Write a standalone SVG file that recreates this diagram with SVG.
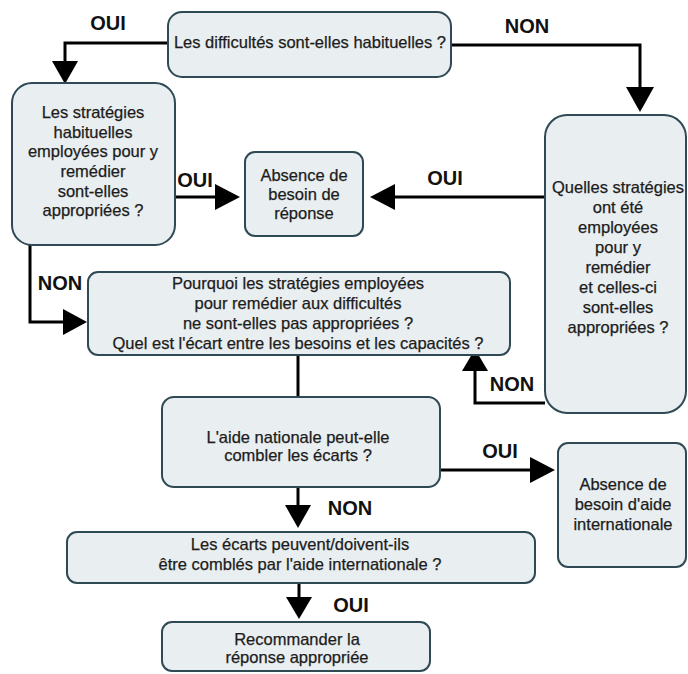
<svg xmlns="http://www.w3.org/2000/svg" width="688" height="674" viewBox="0 0 688 674">
  <style>
    .box { fill: #e9eef0; stroke: #2f4a54; stroke-width: 2; }
    .t { font-family: "Liberation Sans", Arial, sans-serif; font-size: 16.5px; fill: #1c1c1c; text-anchor: middle; stroke: #1c1c1c; stroke-width: 0.25; }
    .lbl { font-family: "Liberation Sans", Arial, sans-serif; font-size: 20px; font-weight: bold; fill: #111; text-anchor: middle; }
    .wire { fill: none; stroke: #000; stroke-width: 3; }
    .head { fill: #000; }
  </style>
  <rect width="688" height="674" fill="#ffffff"/>

  <!-- connectors -->
  <g id="connectors">
    <path class="wire" d="M168,43 H65 V63"/>
    <polygon class="head" points="52,61 78,61 65,84"/>
    <path class="wire" d="M451,45 H640 V89"/>
    <polygon class="head" points="626,87 654,87 640,112"/>
    <path class="wire" d="M175,197 H217"/>
    <polygon class="head" points="215,184 215,210 240,197"/>
    <path class="wire" d="M545,197 H393"/>
    <polygon class="head" points="395,184 395,210 370,197"/>
    <path class="wire" d="M30,245 V322 H66"/>
    <polygon class="head" points="63,309 63,335 87,322"/>
    <path class="wire" d="M545,403 H475 V368"/>
    <polygon class="head" points="462,371 488,371 475,349"/>
    <path class="wire" d="M298,355 V397"/>
    <path class="wire" d="M440,470 H532"/>
    <polygon class="head" points="530,457 530,483 555,470"/>
    <path class="wire" d="M298,487 V507"/>
    <polygon class="head" points="285,505 311,505 298,528"/>
    <path class="wire" d="M299,583 V599"/>
    <polygon class="head" points="286,597 312,597 299,619"/>

    <text class="lbl" x="108" y="30">OUI</text>
    <text class="lbl" x="527" y="33">NON</text>
    <text class="lbl" x="195" y="187">OUI</text>
    <text class="lbl" x="445" y="185">OUI</text>
    <text class="lbl" x="60" y="290">NON</text>
    <text class="lbl" x="512" y="391">NON</text>
    <text class="lbl" x="500" y="458">OUI</text>
    <text class="lbl" x="350" y="515">NON</text>
    <text class="lbl" x="351" y="612">OUI</text>
  </g>

  <g id="q-habituelles">
    <rect class="box" x="168" y="12" width="283" height="65" rx="14"/>
    <text class="t" x="310" y="48">Les difficultés sont-elles habituelles ?</text>
  </g>

  <g id="q-strategies-habituelles">
    <rect class="box" x="12" y="83" width="163" height="162" rx="20"/>
    <text class="t" x="93" y="118">Les stratégies</text>
    <text class="t" x="93" y="138">habituelles</text>
    <text class="t" x="93" y="157">employées pour y</text>
    <text class="t" x="93" y="177">remédier</text>
    <text class="t" x="93" y="197">sont-elles</text>
    <text class="t" x="93" y="216">appropriées ?</text>
  </g>

  <g id="absence-reponse">
    <rect class="box" x="245" y="152" width="118" height="84" rx="10"/>
    <text class="t" x="304" y="181">Absence de</text>
    <text class="t" x="304" y="200">besoin de</text>
    <text class="t" x="304" y="219">réponse</text>
  </g>

  <g id="q-strategies-employees">
    <rect class="box" x="545" y="115" width="141" height="298" rx="22"/>
    <text class="t" x="618" y="193">Quelles stratégies</text>
    <text class="t" x="618" y="213">ont été</text>
    <text class="t" x="618" y="233">employées</text>
    <text class="t" x="618" y="253">pour y</text>
    <text class="t" x="618" y="273">remédier</text>
    <text class="t" x="618" y="293">et celles-ci</text>
    <text class="t" x="618" y="313">sont-elles</text>
    <text class="t" x="618" y="333">appropriées ?</text>
  </g>

  <g id="q-pourquoi">
    <rect class="box" x="88" y="272" width="422" height="83" rx="10"/>
    <text class="t" x="298" y="289">Pourquoi les stratégies employées</text>
    <text class="t" x="298" y="309">pour remédier aux difficultés</text>
    <text class="t" x="298" y="329">ne sont-elles pas appropriées ?</text>
    <text class="t" x="298" y="349">Quel est l'écart entre les besoins et les capacités ?</text>
  </g>

  <g id="q-aide-nationale">
    <rect class="box" x="162" y="397" width="278" height="90" rx="12"/>
    <text class="t" x="298" y="443">L'aide nationale peut-elle</text>
    <text class="t" x="298" y="461">combler les écarts ?</text>
  </g>

  <g id="absence-aide-internationale">
    <rect class="box" x="558" y="443" width="128" height="124" rx="10"/>
    <text class="t" x="623" y="490">Absence de</text>
    <text class="t" x="623" y="510">besoin d'aide</text>
    <text class="t" x="623" y="530">internationale</text>
  </g>

  <g id="q-aide-internationale">
    <rect class="box" x="67" y="532" width="468" height="51" rx="10"/>
    <text class="t" x="300" y="550">Les écarts peuvent/doivent-ils</text>
    <text class="t" x="300" y="570">être comblés par l'aide internationale ?</text>
  </g>

  <g id="recommander">
    <rect class="box" x="162" y="622" width="268" height="49" rx="10"/>
    <text class="t" x="297" y="645">Recommander la</text>
    <text class="t" x="297" y="663">réponse appropriée</text>
  </g>
</svg>
